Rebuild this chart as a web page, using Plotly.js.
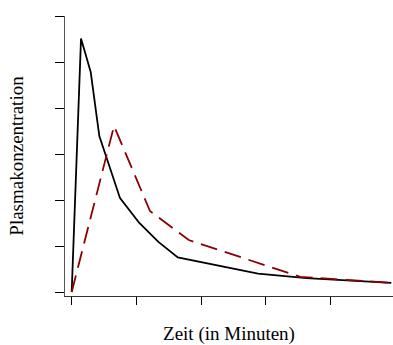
<!DOCTYPE html>
<html>
<head>
<meta charset="utf-8">
<script src="https://cdn.plot.ly/plotly-3.0.1.min.js"></script>
<style>html,body{margin:0;padding:0;background:#fff}#plot{width:393px;height:345px}</style>
</head>
<body>
<div id="plot"></div>
<script>
// Zeitpunkte (Minuten, Achseneinheiten) und Konzentrationen
const timeA = [0, 1.44, 2.94, 4.27, 7.47, 10.45, 13.4, 16.4, 28.8, 36.3, 49.4];
const concA = [0, 5.51, 4.78, 3.39, 2.04, 1.50, 1.09, 0.75, 0.40, 0.30, 0.20];
const timeB = [0, 6.54, 12.1, 18.1, 35.3, 49.4];
const concB = [0, 3.61, 1.76, 1.13, 0.33, 0.20];
const xTicks = [0, 10, 20, 30, 40];
const yTicks = [0, 1, 2, 3, 4, 5, 6];

const traces = [
  {x: timeA, y: concA, type: 'scatter', mode: 'lines',
   line: {color: '#000000', width: 1.8}, hoverinfo: 'skip'},
  {x: timeB, y: concB, type: 'scatter', mode: 'lines',
   line: {color: '#8B0000', width: 1.8, dash: '17px,8px'}, hoverinfo: 'skip'}
];

const serif = 'Liberation Serif, Times New Roman, serif';
const layout = {
  width: 393, height: 345,
  margin: {l: 65, r: 0, t: 16, b: 49, pad: 0},
  paper_bgcolor: '#ffffff', plot_bgcolor: '#ffffff',
  showlegend: false,
  font: {family: serif, color: '#000000', size: 19},
  xaxis: {
    range: [-1.036, 49.66], tickmode: 'array', tickvals: xTicks,
    showticklabels: false, ticks: 'outside', ticklen: 8, tickwidth: 1, tickcolor: '#000',
    showline: true, linecolor: '#333', linewidth: 1,
    showgrid: false, zeroline: false, automargin: false,
    title: {text: 'Zeit (in Minuten)', font: {family: serif, size: 19, color: '#000'}, standoff: 29}
  },
  yaxis: {
    range: [-0.087, 6.0], tickmode: 'array', tickvals: yTicks,
    showticklabels: false, ticks: 'outside', ticklen: 9, tickwidth: 1, tickcolor: '#000',
    showline: true, linecolor: '#555', linewidth: 1.3,
    showgrid: false, zeroline: false, automargin: false,
    title: {text: 'Plasmakonzentration', font: {family: serif, size: 19, color: '#000'}, standoff: 26}
  }
};

Plotly.newPlot('plot', traces, layout, {displayModeBar: false, staticPlot: true});
</script>
</body>
</html>
